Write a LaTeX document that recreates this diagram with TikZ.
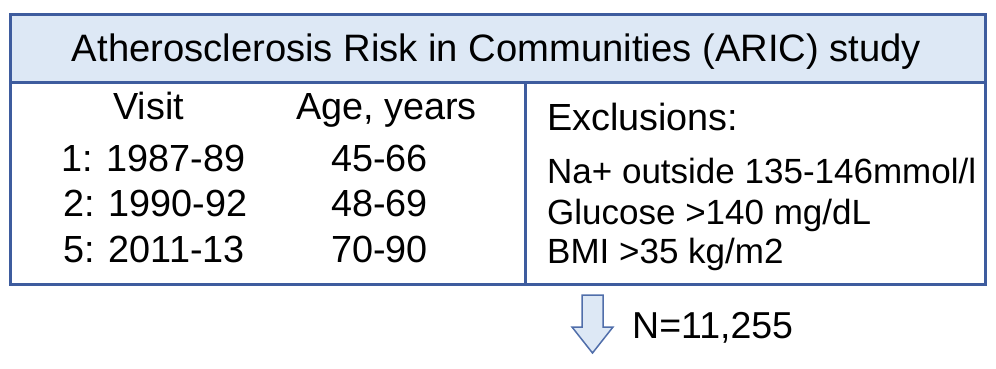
\documentclass[tikz,border=0pt]{standalone}
\usepackage{fontspec}
\setmainfont{Liberation Sans}
\definecolor{bordblue}{RGB}{62,92,158}
\definecolor{lightblue}{RGB}{221,232,245}
\definecolor{arrowblue}{RGB}{80,110,170}
\tikzset{
  cell/.style={draw=bordblue, line width=2.5pt, anchor=north west, inner sep=0pt},
  txt/.style={anchor=base west, inner sep=0pt, text=black},
  hfont/.style={font=\fontsize{38.2}{44}\selectfont},
  bfont/.style={font=\fontsize{37.8}{44}\selectfont},
  lfont/.style={font=\fontsize{35}{42}\selectfont},
  nfont/.style={font=\fontsize{37.5}{44}\selectfont}
}
\begin{document}
\begin{tikzpicture}[x=1pt,y=-1pt]
\useasboundingbox (0,0) rectangle (996,368);
% table cells
\node[cell, fill=lightblue, minimum width=975pt, minimum height=68pt] (header) at (9,13) {};
\node[cell, minimum width=515pt, minimum height=202pt] (left) at (9,81) {};
\node[cell, minimum width=460pt, minimum height=202pt] (right) at (524,81) {};
% header text
\node[hfont, anchor=base, inner sep=0pt] (title) at (496.5,61) {Atherosclerosis Risk in Communities (ARIC) study};
% left cell text
\node[txt, bfont] (visit) at (113,119.3) {Visit};
\node[txt, bfont] (age) at (296,119.3) {Age, years};
\node[txt, bfont] (v1) at (61,171.7) {1: 1987-89};
\node[txt, bfont] (a1) at (331,171.7) {45-66};
\node[txt, bfont] (v2) at (63,216.7) {2: 1990-92};
\node[txt, bfont] (a2) at (331,216.7) {48-69};
\node[txt, bfont] (v5) at (63,262.7) {5: 2011-13};
\node[txt, bfont] (a5) at (331,262.7) {70-90};
% right cell text
\node[txt, bfont] (excl) at (547,130) {Exclusions:};
\node[txt, lfont] (na) at (547,183) {Na+ outside 135-146mmol/l};
\node[txt, lfont] (glu) at (547,224.5) {Glucose >140 mg/dL};
\node[txt, lfont] (bmi) at (547,263) {BMI >35 kg/m2};
% block arrow
\draw[draw=arrowblue, fill=lightblue, line width=1.5pt, line join=miter]
  (582,295) -- (603,295) -- (603,327) -- (613,327) -- (592.5,353) -- (572,327) -- (582,327) -- cycle;
\node[txt, nfont] (n) at (632,338) {N=11,255};
\end{tikzpicture}
\end{document}
